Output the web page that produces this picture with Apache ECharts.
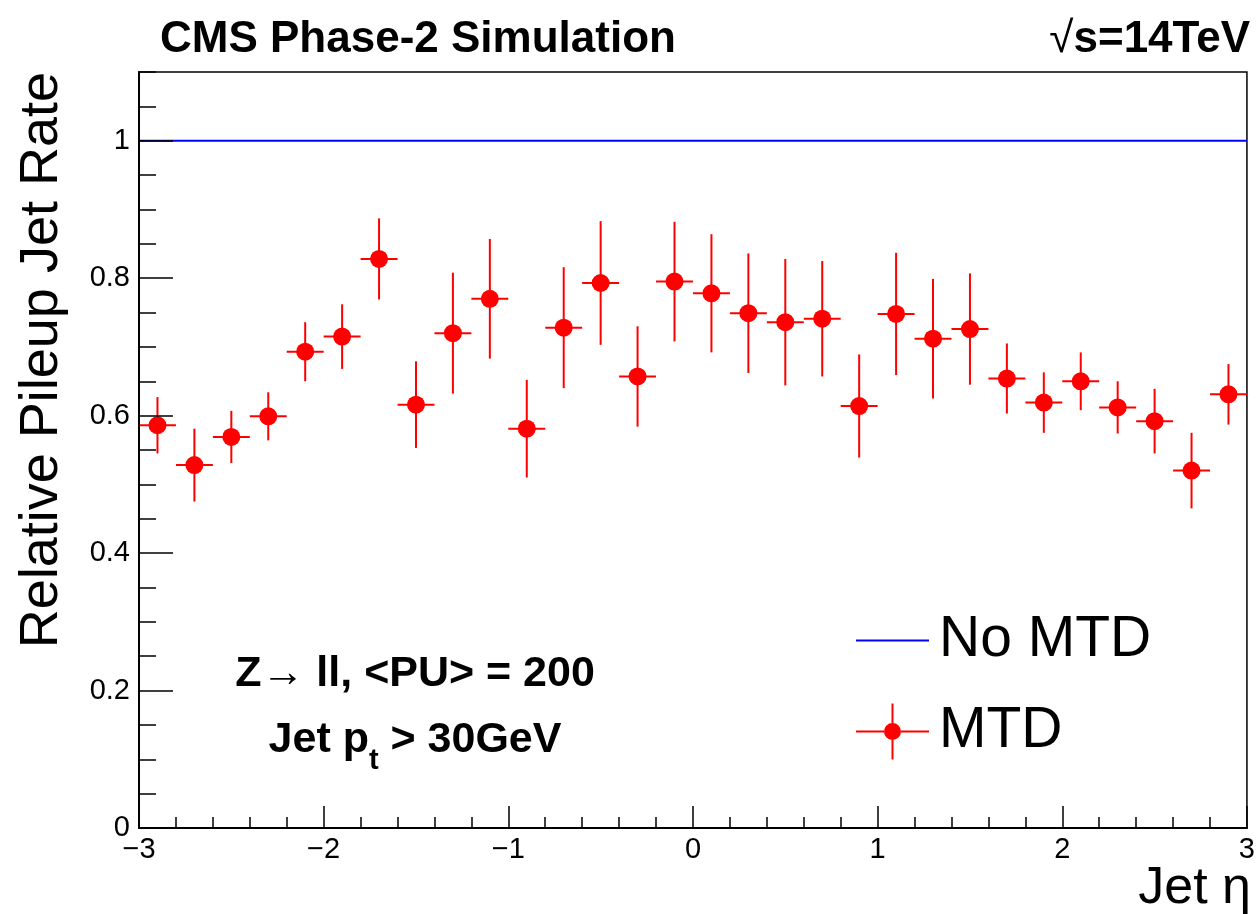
<!DOCTYPE html>
<html>
<head>
<meta charset="utf-8">
<script src="https://cdn.jsdelivr.net/npm/echarts@6/dist/echarts.min.js"></script>
<style>
html,body{margin:0;padding:0;background:#fff;}
#chart{width:1258px;height:914px;}
</style>
</head>
<body>
<div id="chart"></div>
<script>
// ---- data ----
const etaCenters = [-2.9,-2.7,-2.5,-2.3,-2.1,-1.9,-1.7,-1.5,-1.3,-1.1,-0.9,-0.7,-0.5,-0.3,-0.1,
                    0.1,0.3,0.5,0.7,0.9,1.1,1.3,1.5,1.7,1.9,2.1,2.3,2.5,2.7,2.9];
const mtdRate = [0.586,0.528,0.569,0.599,0.693,0.715,0.828,0.616,0.720,0.770,0.581,0.728,0.793,0.657,0.795,
                 0.778,0.749,0.736,0.741,0.614,0.748,0.712,0.726,0.654,0.619,0.650,0.612,0.592,0.520,0.631];
const mtdErr = [0.041,0.053,0.038,0.035,0.043,0.047,0.059,0.063,0.088,0.087,0.071,0.088,0.090,0.073,0.087,
                0.086,0.087,0.092,0.084,0.075,0.089,0.087,0.081,0.051,0.044,0.042,0.038,0.047,0.055,0.044];
const binHalfWidth = 0.1;
const noMtdX = [-3, 3];
const noMtdRate = [1, 1];
const yTickValues = [0,0.2,0.4,0.6,0.8,1];

const FONT = 'Liberation Sans, Arial, Helvetica, sans-serif';
const chart = echarts.init(document.getElementById('chart'), null, {renderer:'canvas'});

const fmtX = v => (v < 0 ? '\u2212' + Math.abs(v) : String(v));
const fmtY = v => {
  const hit = yTickValues.find(t => Math.abs(t - v) < 1e-6);
  if (hit === undefined) return '';
  return (hit === 0 || hit === 1) ? String(hit) : hit.toFixed(1);
};

const lineIcon = 'path://M0,0h73v2h-73z';
const mtdIcon = 'path://M0,27h28v2h-28z M45,27h28v2h-28z M35.5,0h2v19.5h-2z M35.5,36.5h2v19.5h-2z ' +
                'M28,28a8.5,8.5 0 1,1 17,0a8.5,8.5 0 1,1 -17,0z';

const option = {
  backgroundColor: '#fff',
  animation: false,
  grid: {left:139, right:6, top:72, bottom:86, show:true, borderColor:'#000', borderWidth:1.5, backgroundColor:'transparent'},
  xAxis: [{
    type:'value', min:-3, max:3, interval:1, z:5,
    axisLine:{show:true, onZero:false, lineStyle:{color:'#000', width:2}},
    axisTick:{show:true, inside:true, length:22, lineStyle:{color:'#000', width:1.5}},
    minorTick:{show:true, splitNumber:5, length:11, lineStyle:{color:'#000', width:1.5}},
    splitLine:{show:false},
    axisLabel:{formatter:fmtX, fontFamily:FONT, fontSize:29, color:'#000', margin:7}
  }],
  yAxis: [{
    type:'value', min:0, max:1.1, interval:0.2, z:5,
    axisLine:{show:true, onZero:false, lineStyle:{color:'#000', width:2}},
    axisTick:{show:true, inside:true, length:34, lineStyle:{color:'#000', width:1.5}},
    splitLine:{show:false},
    axisLabel:{formatter:fmtY, fontFamily:FONT, fontSize:29, color:'#000', margin:9, showMaxLabel:false}
  },{
    type:'value', min:0, max:1.1, interval:0.05, position:'left', z:5,
    axisLine:{show:false, onZero:false},
    axisTick:{show:true, inside:true, length:17, lineStyle:{color:'#000', width:1.5}},
    splitLine:{show:false},
    axisLabel:{show:false}
  }],
  legend: {
    orient:'vertical', left:851, top:607, itemWidth:73, itemHeight:56, itemGap:34,
    symbolKeepAspect:true,
    itemStyle:{borderWidth:0},
    textStyle:{fontFamily:FONT, fontSize:57, color:'#000', padding:[0,0,0,5]},
    data:[
      {name:'No MTD', icon:lineIcon},
      {name:'MTD', icon:mtdIcon}
    ]
  },
  series: [
    {
      name:'No MTD', type:'line', xAxisIndex:0, yAxisIndex:0, symbol:'none', z:1,
      lineStyle:{color:'#0000ff', width:2}, itemStyle:{color:'#0000ff'},
      data: noMtdX.map((x,i)=>[x, noMtdRate[i]])
    },
    {
      name:'MTD', type:'custom', xAxisIndex:0, yAxisIndex:0, z:3,
      itemStyle:{color:'#ff0000'},
      data: etaCenters.map((x,i)=>[x, mtdRate[i], mtdErr[i], binHalfWidth]),
      renderItem: function(params, api){
        const x = api.value(0), y = api.value(1), e = api.value(2), hw = api.value(3);
        const c = api.coord([x,y]);
        const t = api.coord([x,y+e]);
        const b = api.coord([x,y-e]);
        const l = api.coord([x-hw,y]);
        const r = api.coord([x+hw,y]);
        return {type:'group', children:[
          {type:'line', shape:{x1:c[0], y1:t[1], x2:c[0], y2:b[1]}, style:{stroke:'#ff0000', lineWidth:2}},
          {type:'line', shape:{x1:l[0], y1:c[1], x2:r[0], y2:c[1]}, style:{stroke:'#ff0000', lineWidth:2}},
          {type:'circle', shape:{cx:c[0], cy:c[1], r:9}, style:{fill:'#ff0000'}}
        ]};
      }
    }
  ],
  graphic: [
    {type:'text', left:160, top:18, style:{text:'CMS Phase-2 Simulation', font:'bold 44px '+FONT, fill:'#000'}},
    {type:'text', right:8, top:18, style:{text:'{r|\u221A}s=14TeV', font:'bold 44px '+FONT, fill:'#000',
      rich:{r:{fontFamily:FONT, fontWeight:'normal', fontSize:44, fill:'#000'}}}},
    {type:'text', x:42, y:72, rotation:Math.PI/2,
      style:{text:'Relative Pileup Jet Rate', font:'54px '+FONT, fill:'#000', textAlign:'right', textVerticalAlign:'middle'}},
    {type:'text', x:1251, y:889, style:{text:'Jet \u03B7', font:'52px '+FONT, fill:'#000', textAlign:'right', textVerticalAlign:'middle'}},
    {type:'text', x:415, y:674, style:{text:'Z\u2192 ll, <PU> = 200', font:'bold 43px '+FONT, fill:'#000', textAlign:'center', textVerticalAlign:'middle'}},
    {type:'text', x:415, y:740, style:{text:'Jet p{s|t} > 30GeV', font:'bold 43px '+FONT, fill:'#000', textAlign:'center', textVerticalAlign:'middle',
      rich:{s:{fontFamily:FONT, fontWeight:'bold', fontSize:29, fill:'#000', padding:[42,0,0,0]}}}}
  ]
};
chart.setOption(option);
</script>
</body>
</html>
